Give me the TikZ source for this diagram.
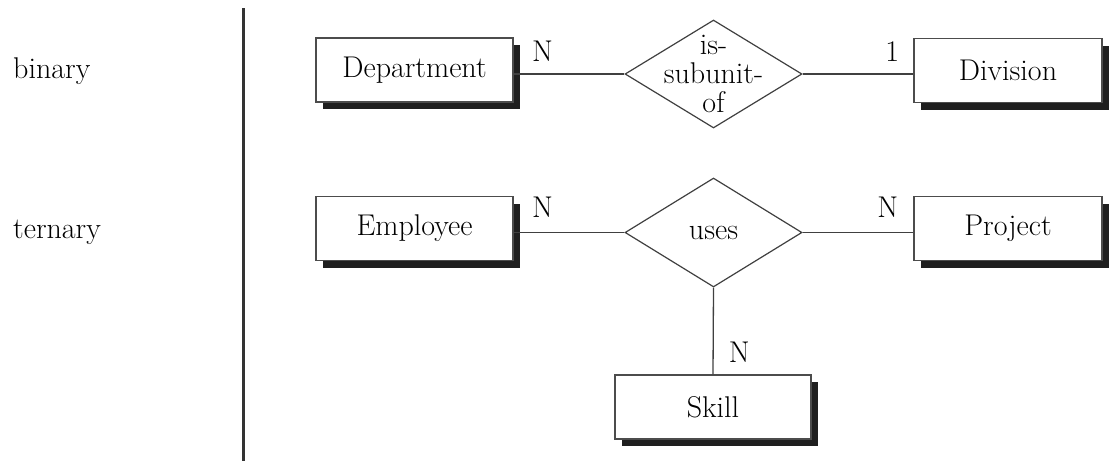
\documentclass[tikz,border=0pt]{standalone}
\usetikzlibrary{shapes.geometric,shadows}
\tikzset{
    entity/.style={
        draw=black!70, line width=1.4pt, fill=white,
        drop shadow={shadow xshift=7pt, shadow yshift=-7pt, fill=black!88, opacity=1},
        minimum height=64pt, inner sep=0pt,
        font=\fontsize{30}{29}\selectfont,
    },
    relation/.style={
        diamond, draw=black!75, line width=1.2pt, fill=white,
        minimum width=177pt, minimum height=108pt, inner sep=0pt,
        font=\fontsize{30}{29}\selectfont,
    },
    reltext/.style={align=center, inner sep=0pt, font=\fontsize{30}{29}\selectfont},
    link/.style={draw=black!75, line width=1.3pt},
    card/.style={inner sep=0pt, font=\fontsize{30}{29}\selectfont},
    side/.style={inner sep=0pt, anchor=base west, font=\fontsize{30}{29}\selectfont},
    divider/.style={draw=black!80, line width=3pt},
}

\begin{document}
\begin{tikzpicture}[x=1pt, y=-1pt]
    \useasboundingbox (0,0) rectangle (1110,461);
    % left column and divider
    \node[side] (bin) at (13,78) {binary};
    \node[side] (tern) at (13,238) {ternary};
    \draw[divider] (243.5,8) -- (243.5,461);

    % binary relationship
    \node[entity, minimum width=197pt] (dept) at (414.5,70) {Department};
    \node[relation] (sub) at (713.5,74) {};
    \node[reltext] (subtxt) at (sub) {is-\\subunit-\\of};
    \node[entity, minimum width=188pt] (div) at (1008,70.5) {Division};
    \draw[link] (dept.east |- sub.west) -- node[card, pos=0.26, above=12pt] {N} (sub.west);
    \draw[link] (sub.east) -- node[card, pos=0.81, above=12pt] {1} (sub.east -| div.west);

    % ternary relationship
    \node[entity, minimum width=197pt] (emp) at (414.5,228.5) {Employee};
    \node[relation, minimum height=109pt] (uses) at (713.5,232.5) {uses};
    \node[entity, minimum width=188pt] (proj) at (1008,228.5) {Project};
    \node[entity, minimum width=196pt] (skill) at (713,407) {Skill};
    \draw[link] (emp.east |- uses.west) -- node[card, pos=0.26, above=14pt] {N} (uses.west);
    \draw[link] (uses.east) -- node[card, pos=0.77, above=14pt] {N} (uses.east -| proj.west);
    \draw[link] (uses.south) -- node[card, pos=0.75, right=15pt] {N} (skill.north);
\end{tikzpicture}
\end{document}
